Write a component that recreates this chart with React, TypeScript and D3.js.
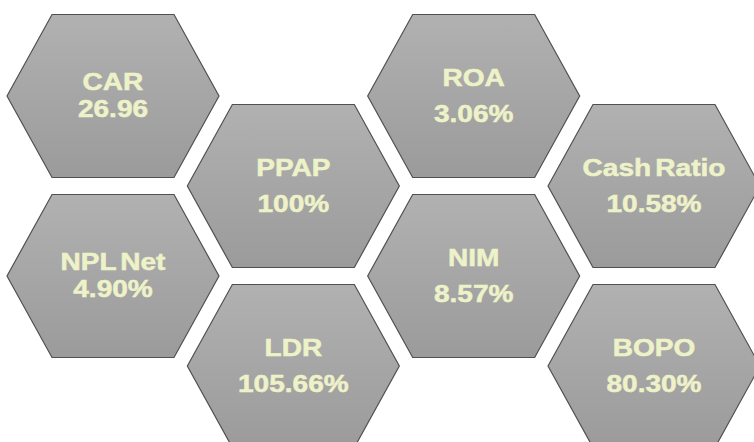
import React, { useRef, useEffect } from 'react';
import * as d3 from 'd3';

// indicator names and values, in drawing order
const labels = ['CAR', 'PPAP', 'NPL Net', 'LDR', 'ROA', 'Cash Ratio', 'NIM', 'BOPO'];
const values = ['26.96', '100%', '4.90%', '105.66%', '3.06%', '10.58%', '8.57%', '80.30%'];
// honeycomb slot of each hexagon: column and half-row
const cols = [0, 1, 0, 1, 2, 3, 2, 3];
const rows = [0, 1, 2, 3, 0, 1, 2, 3];
// the first column was set with tighter line spacing
const tight = [true, false, true, false, false, false, false, false];

const W = 754;
const H = 442;

const App = () => {
    const ref = useRef<SVGSVGElement>(null);
    useEffect(() => {
        if (!ref.current) return;
        const svg = d3.select(ref.current);
        svg.selectAll('*').remove();

        const x = d3.scaleLinear().domain([0, 3]).range([113, 654]);
        const y = d3.scaleLinear().domain([0, 3]).range([96, 366]);

        // squashed hexagon: half width, half height, slant inset
        const hw = 106, hh = 81.5, inset = 45;
        const hexPts: [number, number][] = [
            [-hw, 0], [-hw + inset, -hh], [hw - inset, -hh],
            [hw, 0], [hw - inset, hh], [-hw + inset, hh],
        ];
        const line = d3.line().curve(d3.curveLinearClosed);

        const defs = svg.append('defs');
        const grad = defs.append('linearGradient')
            .attr('id', 'hexFill')
            .attr('x1', 0).attr('y1', 0).attr('x2', 0).attr('y2', 1);
        grad.append('stop').attr('offset', '0%').attr('stop-color', '#b1b1b1');
        grad.append('stop').attr('offset', '100%').attr('stop-color', '#9b9b9b');

        const data = labels.map((l, i) => ({ label: l, value: values[i], col: cols[i], row: rows[i], tight: tight[i] }));

        const g = svg.selectAll('g.hex')
            .data(data)
            .join('g')
            .attr('class', 'hex')
            .attr('transform', d => `translate(${x(d.col)},${y(d.row)})`);

        g.append('path')
            .attr('d', line(hexPts))
            .attr('fill', 'url(#hexFill)')
            .attr('stroke', '#505050')
            .attr('stroke-width', 1.2);

        const txt = g.append('g')
            .attr('transform', 'scale(1.22,1)')
            .attr('fill', '#eef2c8')
            .attr('stroke', '#eef2c8')
            .attr('stroke-width', 0.5)
            .attr('font-family', '"Liberation Sans", Arial, sans-serif')
            .attr('font-weight', 'bold')
            .attr('font-size', 23)
            .attr('word-spacing', -3)
            .attr('text-anchor', 'middle');

        txt.append('text')
            .attr('y', d => d.tight ? -6 : -10.5)
            .text(d => d.label);
        txt.append('text')
            .attr('y', d => d.tight ? 20.5 : 26)
            .text(d => d.value);
    }, []);

    return (
        <svg
            ref={ref}
            width={W}
            height={H}
            style={{ position: 'absolute', left: 0, top: 0, background: '#fff' }}
        />
    );
};

export default App;
